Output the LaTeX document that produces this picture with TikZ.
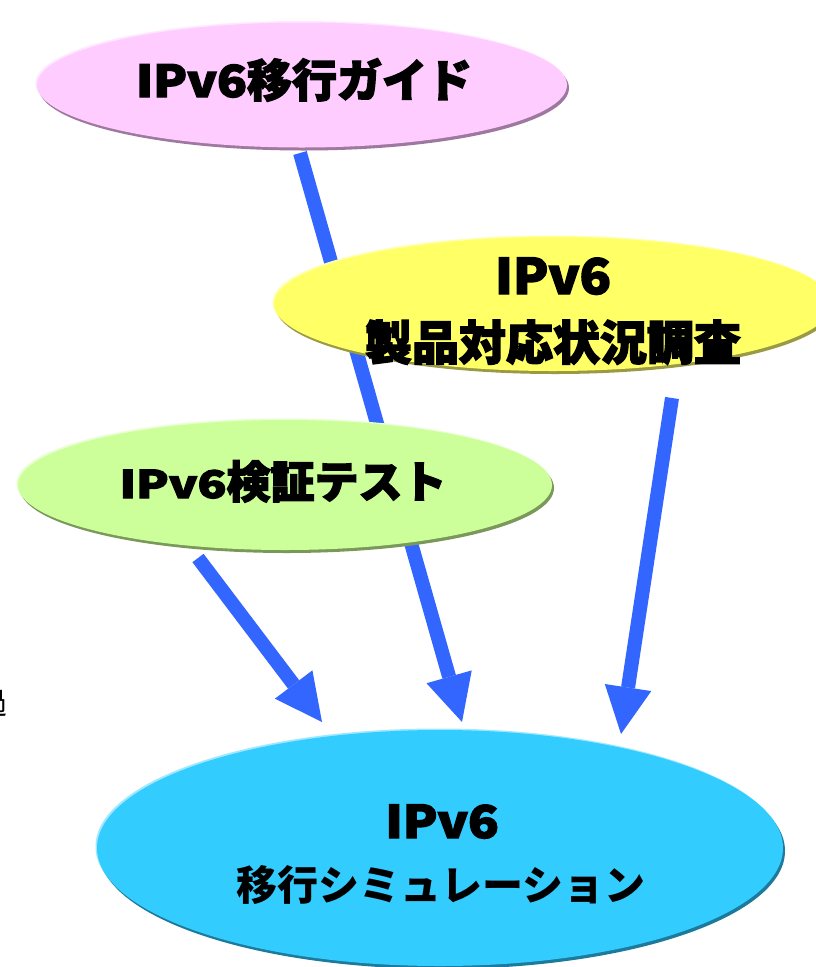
\documentclass[tikz,border=0pt]{standalone}
\usepackage{fontspec}
\usetikzlibrary{shapes.geometric,arrows.meta,shadows}
\newfontfamily\jph{Noto Sans CJK JP}[BoldFeatures={FakeBold=3}]
\newfontfamily\jpb{Noto Sans CJK JP}
\newfontfamily\jpr{Noto Sans CJK JP}
\definecolor{pinkfill}{HTML}{FFCCFF}
\definecolor{pinkdark}{HTML}{9E789E}
\definecolor{pinklight}{HTML}{FFE8FF}
\definecolor{yelfill}{HTML}{FFFF66}
\definecolor{yeldark}{HTML}{9A9A44}
\definecolor{yellight}{HTML}{FFFFB0}
\definecolor{grnfill}{HTML}{CCFF99}
\definecolor{grndark}{HTML}{7A985A}
\definecolor{grnlight}{HTML}{E8FFD0}
\definecolor{cyfill}{HTML}{33CCFF}
\definecolor{cydark}{HTML}{1C7A9C}
\definecolor{cylight}{HTML}{A0E8FF}
\definecolor{arrblue}{HTML}{3366FF}
\tikzset{
  ell/.style={ellipse, inner sep=0pt, draw=none},
  rim/.style 2 args={general shadow={shadow xshift=-1.5pt, shadow yshift=1.5pt, fill=#2},
                     general shadow={shadow xshift=2pt, shadow yshift=-3pt, fill=#1}},
  arr/.style={line width=14pt, draw=arrblue, -{Triangle[width=47pt,length=47pt,line width=0pt]}},
  lbl/.style={inner sep=0pt, anchor=base, text=black},
}
\newcommand{\ipvsix}[2]{{\fontsize{#1}{#1}\selectfont\scalebox{#2}[1]{IPv6}}}
\begin{document}
\begin{tikzpicture}[x=1pt,y=-1pt]
\clip (0,0) rectangle (816,967);
\fill[white] (0,0) rectangle (816,967);
% partial character at left edge
\node[inner sep=0pt, font=\jpr\fontsize{30}{30}\selectfont] (edge) at (-7,703) {過};
% arrow end points
\coordinate (a1s) at (300,153);
\coordinate (a1e) at (462,722);
\coordinate (a2s) at (198,558);
\coordinate (a2e) at (322,722);
\coordinate (a3s) at (672,398);
\coordinate (a3e) at (621,734);
\draw[arr] (a1s) -- (a1e);
\draw[arr] (a2s) -- (a2e);
\draw[arr] (a3s) -- (a3e);
% ellipses
\node[ell, fill=pinkfill, rim={pinkdark}{pinklight}, minimum width=530pt, minimum height=125pt] (pink) at (302,85) {};
\node[ell, fill=yelfill, rim={yeldark}{yellight}, minimum width=558pt, minimum height=134pt] (yel) at (553,304) {};
\node[ell, fill=grnfill, rim={grndark}{grnlight}, minimum width=534pt, minimum height=130pt] (grn) at (285,485) {};
\node[ell, fill=cyfill, rim={cydark}{cylight}, minimum width=686pt, minimum height=236pt] (cy) at (440,848) {};
% labels
\node[lbl, font=\jph\bfseries\fontsize{45}{45}\selectfont] (pinkt) at (304,97) {\ipvsix{44}{1.12}移行ガイド};
\node[lbl, font=\jph\bfseries] (yelt1) at (553,294) {\ipvsix{49}{1.05}};
\node[lbl, font=\jph\bfseries\fontsize{47}{47}\selectfont] (yelt2) at (553,360) {製品対応状況調査};
\node[lbl, font=\jph\bfseries\fontsize{44}{44}\selectfont] (grnt) at (283,498) {\ipvsix{38}{1.25}検証テスト};
\node[lbl, font=\jph\bfseries] (cyt1) at (442,838) {\ipvsix{45}{1.12}};
\node[lbl, font=\jpb\bfseries\fontsize{41}{41}\selectfont] (cyt2) at (441,900) {移行シミュレーション};
\end{tikzpicture}
\end{document}
